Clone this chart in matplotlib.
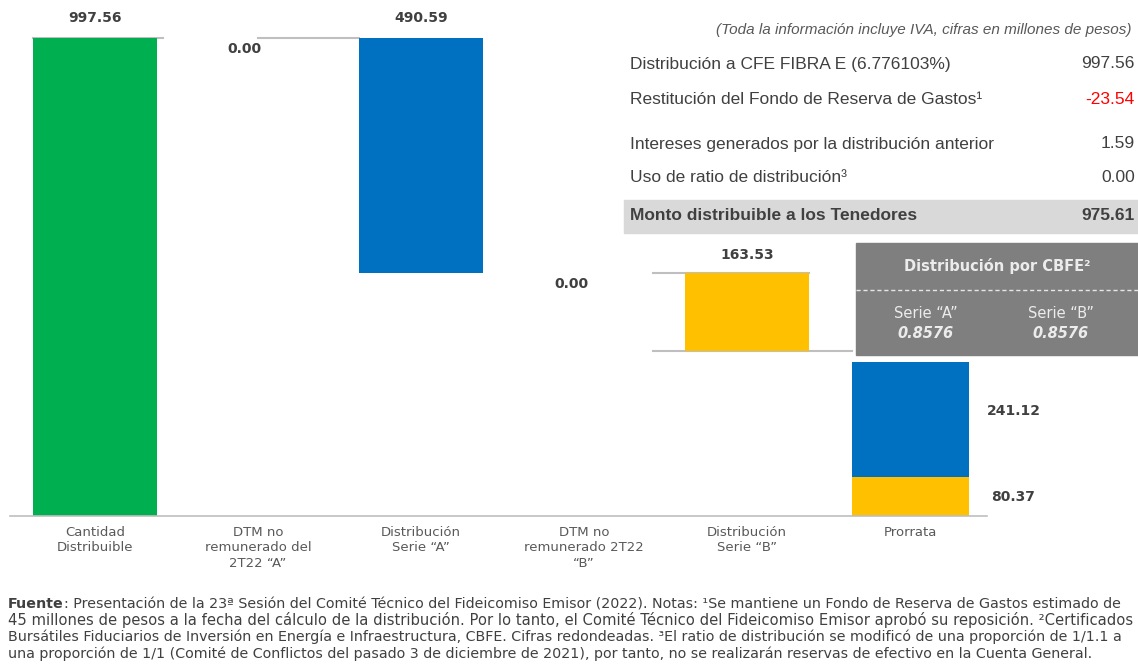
import numpy as np
import matplotlib
matplotlib.use("Agg")
from matplotlib import pyplot as plt
from matplotlib.patches import Rectangle

# chart data
categories = ["Cantidad\nDistribuible", "DTM no\nremunerado del\n2T22 \u201cA\u201d",
              "Distribución\nSerie \u201cA\u201d", "DTM no\nremunerado 2T22\n\u201cB\u201d",
              "Distribución\nSerie \u201cB\u201d", "Prorrata"]
steps = [997.56, 0.00, 490.59, 0.00, 163.53]
prorrata_a = 241.12
prorrata_b = 80.37

# side table
table_labels = ["Distribución a CFE FIBRA E (6.776103%)",
                "Restitución del Fondo de Reserva de Gastos\u00b9",
                "Intereses generados por la distribución anterior",
                "Uso de ratio de distribución\u00b3"]
table_values = ["997.56", "-23.54", "1.59", "0.00"]
total_label = "Monto distribuible a los Tenedores"
total_value = "975.61"
cbfe_series = ["Serie \u201cA\u201d", "Serie \u201cB\u201d"]
cbfe_values = ["0.8576", "0.8576"]

footer = [
    ": Presentación de la 23\u00aa Sesión del Comité Técnico del Fideicomiso Emisor (2022). Notas: \u00b9Se mantiene un Fondo de Reserva de Gastos estimado de",
    "45 millones de pesos a la fecha del cálculo de la distribución. Por lo tanto, el Comité Técnico del Fideicomiso Emisor aprobó su reposición. \u00b2Certificados",
    "Bursátiles Fiduciarios de Inversión en Energía e Infraestructura, CBFE. Cifras redondeadas. \u00b3El ratio de distribución se modificó de una proporción de 1/1.1 a",
    "una proporción de 1/1 (Comité de Conflictos del pasado 3 de diciembre de 2021), por tanto, no se realizarán reservas de efectivo en la Cuenta General.",
]

GREEN, BLUE, YELLOW = "#00b050", "#0070c0", "#ffc000"
GRID = "#bfbfbf"
TXT = "#404040"
NARROW = ["DejaVu Sans Condensed", "DejaVu Sans"]
ARIAL = ["Liberation Sans", "DejaVu Sans"]

W, H = 1138, 669
def fx(px):
    return px / W
def fy(py):
    return 1 - py / H

fig = plt.figure(figsize=(W / 100, H / 100), dpi=100)
ax = fig.add_axes([fx(10), fy(516), (987 - 10) / W, 516 / H])
ax.set_xlim(-0.52, 5.47)
ax.set_ylim(0, 516 / 478 * steps[0])
for s in ["top", "right", "left"]:
    ax.spines[s].set_visible(False)
ax.spines["bottom"].set_color(GRID)
ax.spines["bottom"].set_linewidth(1.2)
ax.set_yticks([])
ax.set_xticks(range(len(categories)))
ax.set_xticklabels(categories, fontsize=9.5, color="#595959", family=NARROW, linespacing=1.25)
ax.tick_params(axis="x", length=0, pad=7)

w = 0.76
colors = [GREEN, None, BLUE, None, YELLOW]
level = 0.0
tops = []
for i, v in enumerate(steps):
    if i == 0:
        bottom, top = 0.0, v
        level = v
    else:
        top = level
        bottom = level - v
        level = bottom
    tops.append((bottom, top))
    if v > 0:
        ax.bar(i, top - bottom, bottom=bottom, width=w, color=colors[i], zorder=2)

# prorrata stacked
pw = 0.72
ax.bar(5, prorrata_b, width=pw, color=YELLOW, zorder=2)
ax.bar(5, prorrata_a, bottom=prorrata_b, width=pw, color=BLUE, zorder=2)

# connector lines
ln = dict(color=GRID, lw=1.5, zorder=1)
ax.plot([0 - w / 2, 0.42], [tops[0][1]] * 2, **ln)
ax.plot([1.0, 2 - w / 2], [tops[2][1]] * 2, **ln)
ax.plot([3.42, 4 + w / 2], [tops[4][1]] * 2, **ln)
ax.plot([3.42, 5 - pw / 2], [tops[4][0]] * 2, **ln)

lab = dict(fontsize=10, fontweight="bold", color=TXT, family=NARROW, ha="center")
ax.annotate(f"{steps[0]:.2f}", (0, tops[0][1]), xytext=(0, 9), textcoords="offset points", va="bottom", **lab)
ax.annotate(f"{steps[2]:.2f}", (2, tops[2][1]), xytext=(0, 9), textcoords="offset points", va="bottom", **lab)
ax.annotate(f"{steps[4]:.2f}", (4, tops[4][1]), xytext=(0, 8), textcoords="offset points", va="bottom", **lab)
ax.annotate(f"{steps[1]:.2f}", (0.92, tops[1][1]), xytext=(0, -3), textcoords="offset points", va="top", **lab)
ax.annotate(f"{steps[3]:.2f}", (2.92, tops[3][0]), xytext=(0, -3), textcoords="offset points", va="top", **lab)
ax.annotate(f"{prorrata_a:.2f}", (5 + pw / 2, prorrata_b + prorrata_a / 2), xytext=(32, 6),
            textcoords="offset points", va="center", **lab)
ax.annotate(f"{prorrata_b:.2f}", (5 + pw / 2, prorrata_b / 2), xytext=(32, 0),
            textcoords="offset points", va="center", **lab)

# top right table
fig.text(fx(1132), fy(30), "(Toda la información incluye IVA, cifras en millones de pesos)",
         fontsize=11, style="italic", color="#595959", family=ARIAL, ha="right", va="center")
row_y = [64, 99, 144, 178]
for lbl, val, y in zip(table_labels, table_values, row_y):
    fig.text(fx(630), fy(y), lbl, fontsize=12.5, color=TXT, family=ARIAL, va="center")
    fig.text(fx(1135), fy(y), val, fontsize=12.5, family=ARIAL, va="center", ha="right",
             color="#ff0000" if val.startswith("-") else TXT)
fig.patches.append(Rectangle((fx(624), fy(233)), (1138 - 624) / W, 33 / H,
                             transform=fig.transFigure, color="#d9d9d9", zorder=0))
fig.text(fx(630), fy(215), total_label, fontsize=12.5, fontweight="bold", color=TXT, family=ARIAL, va="center")
fig.text(fx(1135), fy(215), total_value, fontsize=12.5, fontweight="bold", color=TXT, family=ARIAL,
         va="center", ha="right")

# CBFE box (kept above the prorrata bar)
box_top, box_bot = 243, 355
fig.patches.append(Rectangle((fx(856), fy(box_bot)), (1138 - 856) / W, (box_bot - box_top) / H,
                             transform=fig.transFigure, color="#7f7f7f", zorder=0))
fig.add_artist(plt.Line2D([fx(856), fx(1138)], [fy(290), fy(290)], transform=fig.transFigure,
                          color="#e6e6e6", lw=1, ls=(0, (3, 2))))
fig.text(fx(997), fy(266), "Distribución por CBFE\u00b2", fontsize=10.5, fontweight="bold",
         color="#ececec", family=NARROW, ha="center", va="center")
for xs, s, v in zip([926, 1061], cbfe_series, cbfe_values):
    fig.text(fx(xs), fy(314), s, fontsize=10.5, color="#ececec", family=NARROW, ha="center", va="center")
    fig.text(fx(xs), fy(333), v, fontsize=10.5, fontweight="bold", style="italic", color="#ececec",
             family=NARROW, ha="center", va="center")

# footer, stretched to the justified width of the reference
fy0 = [604, 620, 637, 654]
base = 8.4
renderer = fig.canvas.get_renderer()
t0 = fig.text(fx(8), fy(fy0[0]), "Fuente", fontsize=base, fontweight="bold", color=TXT,
              family=NARROW, va="center")
texts = []
for i, (line, y) in enumerate(zip(footer, fy0)):
    texts.append(fig.text(fx(8), fy(y), line, fontsize=base, color=TXT, family=NARROW, va="center"))

fig.canvas.draw()
fw = t0.get_window_extent(renderer).width
sizes = []
for i, t in enumerate(texts[:3]):
    width = t.get_window_extent(renderer).width + (fw if i == 0 else 0)
    sizes.append(base * (1122 - 8) / width)
sizes.append(sizes[2])
for i, t in enumerate(texts):
    t.set_fontsize(sizes[i])
t0.set_fontsize(sizes[0])
fig.canvas.draw()
texts[0].set_x(t0.get_window_extent(renderer).x1 / W)

fig.savefig("out.png", dpi=100, facecolor="white")
